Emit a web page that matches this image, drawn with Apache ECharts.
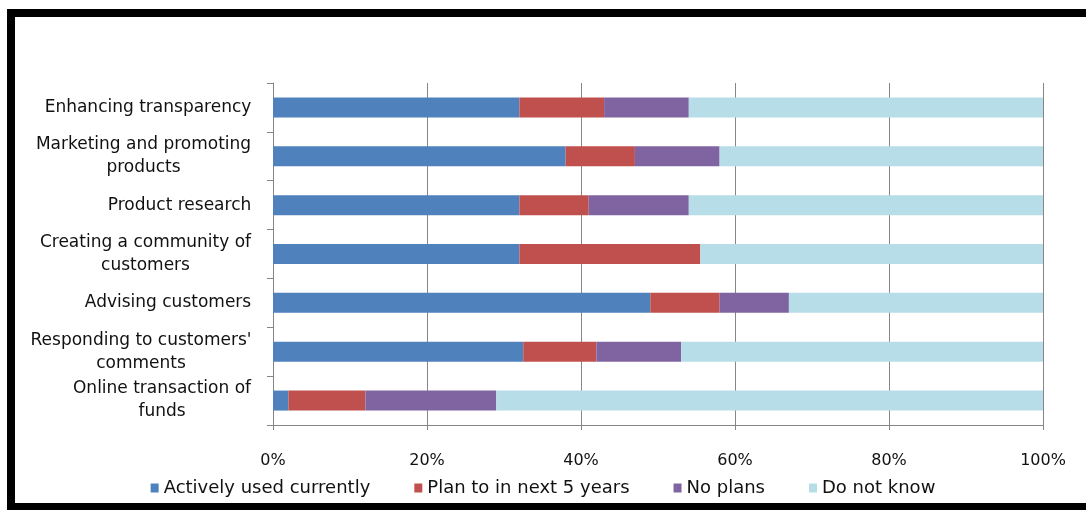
<!DOCTYPE html>
<html>
<head>
<meta charset="utf-8">
<script src="https://cdn.jsdelivr.net/npm/echarts@6/dist/echarts.min.js"></script>
<style>
  html, body { margin: 0; padding: 0; background: #ffffff; }
  #chart { width: 1086px; height: 510px; }
</style>
</head>
<body>
<div id="chart"></div>
<script>
// Uses of social media by category (share of respondents, %)
const categories = [
  'Enhancing transparency',
  'Marketing and promoting\nproducts',
  'Product research',
  'Creating a community of\ncustomers',
  'Advising customers',
  "Responding to customers'\ncomments",
  'Online transaction of\nfunds'
];
const seriesNames = ['Actively used currently', 'Plan to in next 5 years', 'No plans', 'Do not know'];
const activelyUsed = [32, 38, 32, 32, 49, 32.5, 2];
const planNext5   = [11, 9, 9, 23.5, 9, 9.5, 10];
const noPlans     = [11, 11, 13, 0, 9, 11, 17];
const doNotKnow   = [46, 42, 46, 44.5, 33, 47, 71];
const xTicks = [0, 20, 40, 60, 80, 100];

const colors = ['#4F81BD', '#C0504D', '#8064A2', '#B7DDE8'];
const FONT = '"DejaVu Sans", sans-serif';
const TEXT_COLOR = '#111111';
const LABEL_SIZE = 17;

// Wrapped category labels: each line centred within the widest line of its label
const measureCtx = document.createElement('canvas').getContext('2d');
measureCtx.font = LABEL_SIZE + 'px ' + FONT;
const rich = {};
categories.forEach((c, i) => {
  const w = Math.max(...c.split('\n').map(s => measureCtx.measureText(s).width));
  rich['c' + i] = {
    width: Math.ceil(w) + 1,
    align: 'center',
    fontSize: LABEL_SIZE,
    fontFamily: FONT,
    color: TEXT_COLOR,
    lineHeight: 23
  };
});

const allValues = [activelyUsed, planNext5, noPlans, doNotKnow];

const chart = echarts.init(document.getElementById('chart'), null, { renderer: 'canvas' });
chart.setOption({
  animation: false,
  backgroundColor: '#ffffff',
  color: colors,
  grid: { left: 273, right: 43, top: 83, bottom: 85, containLabel: false },
  legend: {
    data: seriesNames,
    top: 474,
    left: 'center',
    icon: 'rect',
    itemWidth: 8,
    itemHeight: 9,
    itemGap: 44,
    textStyle: { fontSize: 18, fontFamily: FONT, color: TEXT_COLOR }
  },
  xAxis: {
    type: 'value',
    min: xTicks[0],
    max: xTicks[xTicks.length - 1],
    interval: xTicks[1] - xTicks[0],
    axisLine: { show: true, lineStyle: { color: '#868686', width: 1 } },
    axisTick: { show: true, length: 5, lineStyle: { color: '#868686' } },
    axisLabel: {
      formatter: '{value}%',
      margin: 28,
      fontSize: 16,
      fontFamily: FONT,
      color: TEXT_COLOR
    },
    splitLine: { show: true, lineStyle: { color: '#868686', width: 1 } }
  },
  yAxis: {
    type: 'category',
    data: categories,
    inverse: true,
    axisLine: { show: true, lineStyle: { color: '#868686', width: 1 } },
    axisTick: { show: true, length: 6, alignWithLabel: false, lineStyle: { color: '#868686' } },
    axisLabel: {
      margin: 21,
      formatter: (value, index) => '{c' + index + '|' + value + '}',
      rich: rich
    },
    splitLine: { show: false }
  },
  series: seriesNames.map((name, i) => ({
    name: name,
    type: 'bar',
    stack: 'total',
    barWidth: 20,
    data: allValues[i],
    itemStyle: { color: colors[i] }
  })),
  graphic: [
    { type: 'rect', shape: { x: 7, y: 9, width: 1079, height: 8 }, style: { fill: '#000' } },
    { type: 'rect', shape: { x: 7, y: 9, width: 8, height: 501 }, style: { fill: '#000' } },
    { type: 'rect', shape: { x: 7, y: 503, width: 1079, height: 7 }, style: { fill: '#000' } }
  ]
});
</script>
</body>
</html>
